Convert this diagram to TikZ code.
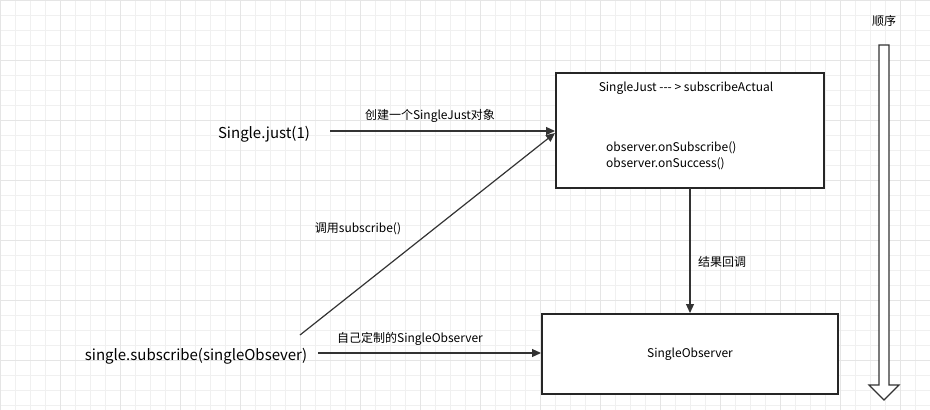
\documentclass[tikz,border=0pt]{standalone}
\usepackage{fontspec}
\setmainfont{Noto Sans CJK SC}
\usetikzlibrary{arrows.meta}
\begin{document}
\begin{tikzpicture}[x=1pt,y=-1pt,
  lbl/.style={font=\fontsize{12}{14}\selectfont,inner sep=0pt},
  big/.style={font=\fontsize{15}{17}\selectfont,inner sep=0pt},
  box/.style={draw=black!85,line width=1.2pt,fill=white},
  arr/.style={draw=black!80,line width=1.2pt,-{Triangle[length=9pt,width=8pt]}}]
\useasboundingbox (0,0) rectangle (930,410);
\fill[white] (0,0) rectangle (930,410);
\foreach \i in {0,15,...,930} \draw[black!6,line width=0.5pt] (\i,0) -- (\i,410);
\foreach \i in {0,15,...,410} \draw[black!6,line width=0.5pt] (0,\i) -- (930,\i);
\foreach \i in {0,60,...,930} \draw[black!10,line width=0.7pt] (\i,0) -- (\i,410);
\foreach \i in {0,60,...,410} \draw[black!10,line width=0.7pt] (0,\i) -- (930,\i);
\draw[box] (556,73) rectangle (824,188);
\draw[box] (542,314) rectangle (838,394);
\node[lbl] (t1) at (686,88) {SingleJust {-}{-}{-} > subscribeActual};
\node[lbl,anchor=west] (t2) at (606,148) {observer.onSubscribe()};
\node[lbl,anchor=west] (t3) at (606,164) {observer.onSuccess()};
\node[lbl] (so) at (690,354) {SingleObserver};
\node[big] (sj) at (264,134) {Single.just(1)};
\node[big] (ss) at (196,356) {single.subscribe(singleObsever)};
\coordinate (a1s) at (330,131); \coordinate (a1e) at (555,131);
\coordinate (a2s) at (300,335); \coordinate (a2e) at (555,133);
\coordinate (a3s) at (318,353); \coordinate (a3e) at (541,353);
\coordinate (a4s) at (690,188); \coordinate (a4e) at (690,313);
\draw[arr] (a1s) -- (a1e);
\draw[arr] (a2s) -- (a2e);
\draw[arr] (a3s) -- (a3e);
\draw[arr] (a4s) -- (a4e);
\node[lbl] (l1) at (430,116) {创建一个SingleJust对象};
\node[lbl] (l2) at (358,229) {调用subscribe()};
\node[lbl] (l3) at (410,339) {自己定制的SingleObserver};
\node[lbl] (l4) at (722,262) {结果回调};
\node[lbl] (l5) at (884,21) {顺序};
\draw[draw=black!80,line width=1.2pt,fill=white,line join=miter]
  (879,45) -- (889,45) -- (889,385) -- (899,385) -- (884,400) -- (869,385) -- (879,385) -- cycle;
\end{tikzpicture}
\end{document}
